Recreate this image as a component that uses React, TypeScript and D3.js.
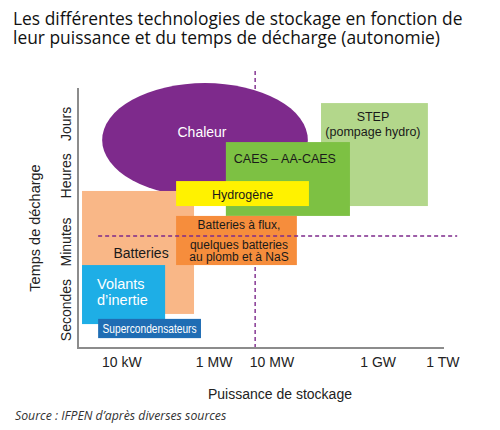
import * as d3 from "d3"

// Title and axis texts
const titleLines = [
  "Les différentes technologies de stockage en fonction de",
  "leur puissance et du temps de décharge (autonomie)",
]
const xTitle = "Puissance de stockage"
const yTitle = "Temps de décharge"
const sourceText = "Source : IFPEN d’après diverses sources"

// Schematic axes (0-100 on both scales)
const xTickLabels = ["10 kW", "1 MW", "10 MW", "1 GW", "1 TW"]
const xTickValues = [12, 37.2, 53, 82, 99.7]
const yTickLabels = ["Secondes", "Minutes", "Heures", "Jours"]
const yTickValues = [14.6, 40.8, 66.2, 86.2]

// Heat storage (ellipse): power range / duration range
const heatLabel = "Chaleur"
const heatPower = [6.6, 62.8]
const heatDuration = [58.1, 101.9]

// Technologies, in drawing order
const techNames = ["STEP", "CAES", "Batteries", "Hydrogène", "Flux", "Volants", "Supercondensateurs"]
const techLines = [
  ["STEP", "(pompage hydro)"],
  ["CAES – AA-CAES"],
  ["Batteries"],
  ["Hydrogène"],
  ["Batteries à flux,", "quelques batteries", "au plomb et à NaS"],
  ["Volants", "d’inertie"],
  ["Supercondensateurs"],
]
const techPower = [
  [66.4, 95.6],
  [40.4, 74.3],
  [1.1, 31.7],
  [26.8, 63.1],
  [26.8, 59.8],
  [1.1, 23.8],
  [5.5, 33.6],
]
const techDuration = [
  [54.6, 94.2],
  [50.8, 79.2],
  [13.1, 60.4],
  [54.6, 64.2],
  [31.9, 50.8],
  [9.2, 31.9],
  [3.8, 11.2],
]

// Reference lines (10 MW / minutes-hours boundary)
const vLinePower = 48.4
const vLineDuration = [0, 107.7]
const hLineDuration = 43.1
const hLinePower = [5.5, 103.6]

const colors: Record<string, string> = {
  Chaleur: "#7e2a8c",
  STEP: "#b3d78b",
  CAES: "#7dc143",
  Batteries: "#f9b787",
  Hydrogène: "#fff200",
  Flux: "#f68d3c",
  Volants: "#1eaee6",
  Supercondensateurs: "#1f6db4",
}

// label placement relative to the box
const labelLayout: Record<string, { anchor: string; dx: number; dys: number[]; size: number; fill: string; len?: number }> = {
  STEP: { anchor: "middle", dx: -1.5, dys: [18, 33], size: 12.5, fill: "#1a1a1a" },
  CAES: { anchor: "middle", dx: -3, dys: [21], size: 12.5, fill: "#1a1a1a" },
  Batteries: { anchor: "middle", dx: 3, dys: [67], size: 14, fill: "#1a1a1a" },
  Hydrogène: { anchor: "middle", dx: 0, dys: [18], size: 12.5, fill: "#1a1a1a" },
  Flux: { anchor: "middle", dx: 2.5, dys: [13, 33, 45.5], size: 12, fill: "#1a1a1a" },
  Volants: { anchor: "start", dx: 15, dys: [24, 40], size: 14.5, fill: "#ffffff" },
  Supercondensateurs: { anchor: "middle", dx: 0, dys: [14], size: 12.5, fill: "#ffffff", len: 94 },
}

const FONT = "'Liberation Sans', Arial, sans-serif"

export default function App() {
  const width = 500
  const height = 430

  const x = d3.scaleLinear().domain([0, 100]).range([78, 444])
  const y = d3.scaleLinear().domain([0, 100]).range([348, 88])

  const [x0r, x1r] = x.range()
  const [y0r, y1r] = y.range()

  const ecx = (x(heatPower[0]) + x(heatPower[1])) / 2
  const erx = (x(heatPower[1]) - x(heatPower[0])) / 2
  const ecy = (y(heatDuration[0]) + y(heatDuration[1])) / 2
  const ery = (y(heatDuration[0]) - y(heatDuration[1])) / 2

  const dash = { stroke: "#7e2a8c", strokeWidth: 1.4, strokeDasharray: "4 3" }

  const boxes = techNames.map((name, i) => {
    const bx = x(techPower[i][0])
    const bw = x(techPower[i][1]) - bx
    const by = y(techDuration[i][1])
    const bh = y(techDuration[i][0]) - by
    return { name, lines: techLines[i], bx, by, bw, bh }
  })

  const renderBox = (b: (typeof boxes)[number]) => {
    const l = labelLayout[b.name]
    const tx = l.anchor === "start" ? b.bx + l.dx : b.bx + b.bw / 2 + l.dx
    return (
      <g key={b.name}>
        <rect x={b.bx} y={b.by} width={b.bw} height={b.bh} fill={colors[b.name]} />
        {b.lines.map((line, j) => (
          <text
            key={j}
            x={tx}
            y={b.by + l.dys[j]}
            textAnchor={l.anchor}
            fontSize={l.size}
            fill={l.fill}
            fontFamily={FONT}
            textLength={l.len}
            lengthAdjust={l.len ? "spacingAndGlyphs" : undefined}
          >
            {line}
          </text>
        ))}
      </g>
    )
  }

  return (
    <svg
      width={width}
      height={height}
      style={{ position: "absolute", left: 0, top: 0, background: "#fff" }}
    >
      {/* title */}
      {titleLines.map((t, i) => (
        <text key={i} x={13} y={25 + i * 18.5} fontSize={17.4} fill="#111" fontFamily="'Open Sans', sans-serif">
          {t}
        </text>
      ))}

      {/* vertical reference line, behind shapes */}
      <line x1={x(vLinePower)} x2={x(vLinePower)} y1={y(vLineDuration[0])} y2={y(vLineDuration[1])} {...dash} />

      {/* heat */}
      <ellipse cx={ecx} cy={ecy} rx={erx} ry={ery} fill={colors.Chaleur} />
      <text x={ecx - 3} y={ecy - 3} textAnchor="middle" fontSize={14} fill="#fff" fontFamily={FONT}>
        {heatLabel}
      </text>

      {boxes.slice(0, 5).map(renderBox)}

      {/* horizontal reference line */}
      <line x1={x(hLinePower[0])} x2={x(hLinePower[1])} y1={y(hLineDuration)} y2={y(hLineDuration)} {...dash} />

      {boxes.slice(5).map(renderBox)}

      {/* axes */}
      <line x1={x0r} x2={x0r} y1={y0r} y2={y1r} stroke="#8c8c8c" strokeWidth={2} />
      <line x1={x0r - 1} x2={x1r} y1={y0r} y2={y0r} stroke="#8c8c8c" strokeWidth={2} />

      {xTickValues.map((v, i) => (
        <text key={i} x={x(v)} y={367} textAnchor="middle" fontSize={14} fill="#222" fontFamily={FONT}>
          {xTickLabels[i]}
        </text>
      ))}
      {yTickValues.map((v, i) => (
        <text
          key={i}
          transform={`translate(71,${y(v)}) rotate(-90)`}
          textAnchor="middle"
          fontSize={14}
          fill="#222"
          fontFamily={FONT}
        >
          {yTickLabels[i]}
        </text>
      ))}

      <text x={280} y={399} textAnchor="middle" fontSize={14} fill="#222" fontFamily={FONT}>
        {xTitle}
      </text>
      <text
        transform="translate(40,228) rotate(-90)"
        textAnchor="middle"
        fontSize={14.5}
        fill="#222"
        fontFamily={FONT}
      >
        {yTitle}
      </text>

      <text x={15} y={420} fontSize={12.3} fontStyle="italic" fill="#333" fontFamily="'Open Sans', sans-serif">
        {sourceText}
      </text>
    </svg>
  )
}
